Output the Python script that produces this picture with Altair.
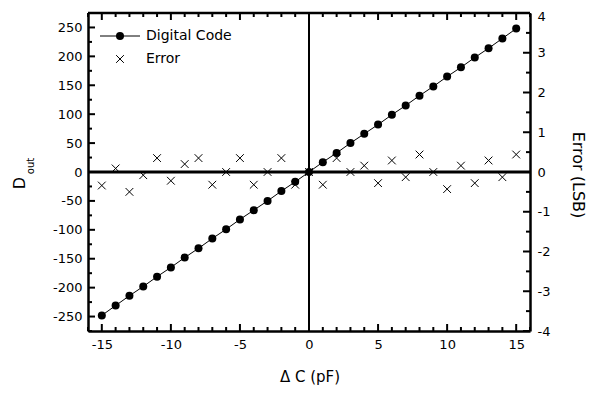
import altair as alt
import pandas as pd

# ---- data ----
delta_c = list(range(-15, 16))
digital_code = [-248, -231, -214, -198, -181, -165, -148, -132, -115, -99, -82, -66, -50, -33, -17,
                0, 17, 33, 50, 66, 82, 99, 115, 132, 148, 165, 181, 198, 214, 231, 248]
error_lsb = [-0.34, 0.09, -0.50, -0.08, 0.35, -0.22, 0.20, 0.35, -0.32, 0.0, 0.35, -0.32, 0.0, 0.35, -0.32,
             0.0, -0.32, 0.35, 0.0, 0.16, -0.28, 0.29, -0.13, 0.44, 0.0, -0.43, 0.16, -0.28, 0.29, -0.13, 0.44]

x_major = list(range(-15, 16, 5))
x_minor = [v for v in range(-16, 17) if v % 5 != 0]
yl_major = list(range(-250, 251, 50))
yl_minor = [v for v in range(-275, 276, 25) if v % 50 != 0]
yr_major = list(range(-4, 5))
yr_minor = [v + 0.5 for v in range(-4, 4)]

W, H = 442, 318
FONT = "DejaVu Sans"
X_DOM = [-16, 16]
YL_DOM = [-275, 275]
YR_DOM = [-4, 4]
MAJ, MIN = 7, 4

df = pd.DataFrame({"x": delta_c, "code": digital_code, "err": error_lsb})
dummy = pd.DataFrame({"x": [0], "y": [0]})

xs = alt.Scale(domain=X_DOM, nice=False, zero=False)
yls = alt.Scale(domain=YL_DOM, nice=False, zero=False)
yrs = alt.Scale(domain=YR_DOM, nice=False, zero=False)

base_axis = dict(labelFont=FONT, labelFontSize=13, labelColor="black", grid=False, title=None,
                 ticks=False, domain=True, domainColor="black", domainWidth=2.5,
                 labelExpr="'' + datum.value")

x_main_axis = alt.Axis(orient="bottom", values=x_major, labelPadding=7, **base_axis)
yl_main_axis = alt.Axis(orient="left", values=yl_major, labelPadding=6, **base_axis)
yr_main_axis = alt.Axis(orient="right", values=yr_major, labelPadding=7,
                        labelOffset={"condition": {"test": "datum.value == 4", "value": 3}, "value": 0},
                        **base_axis)

code_line = alt.Chart(df).mark_line(color="black", strokeWidth=1).encode(
    x=alt.X("x:Q", scale=xs, axis=x_main_axis),
    y=alt.Y("code:Q", scale=yls, axis=yl_main_axis),
)
code_pts = alt.Chart(df).mark_point(filled=True, color="black", size=64, opacity=1, shape="circle").encode(
    x=alt.X("x:Q", scale=xs, axis=None),
    y=alt.Y("code:Q", scale=yls, axis=None),
)
err_pts = alt.Chart(df).mark_point(
    shape="M-1,-1L1,1M-1,1L1,-1", filled=False, color="black", strokeWidth=1, size=60, opacity=1
).encode(
    x=alt.X("x:Q", scale=xs, axis=None),
    y=alt.Y("err:Q", scale=yrs, axis=yr_main_axis),
)

zero_v = alt.Chart(dummy).mark_rule(color="black", strokeWidth=2).encode(
    x=alt.X("x:Q", scale=xs, axis=None)
)
zero_h = alt.Chart(dummy).mark_rule(color="black", strokeWidth=3).encode(
    y=alt.Y("y:Q", scale=yls, axis=None)
)
top_frame = alt.Chart(dummy).mark_rule(color="black", strokeWidth=2.5).encode(
    x=alt.value(0), x2=alt.value(W), y=alt.value(0)
)


# inward tick marks drawn through the scales
def xticks(values, y0, y1):
    d = pd.DataFrame({"v": values})
    return alt.Chart(d).mark_rule(color="black", strokeWidth=2).encode(
        x=alt.X("v:Q", scale=xs, axis=None), y=alt.value(y0), y2=alt.value(y1))


def yticks(values, scale, x0, x1):
    d = pd.DataFrame({"v": values})
    return alt.Chart(d).mark_rule(color="black", strokeWidth=2).encode(
        y=alt.Y("v:Q", scale=scale, axis=None), x=alt.value(x0), x2=alt.value(x1))


tick_layers = [
    xticks(x_major, H, H - MAJ), xticks(x_minor, H, H - MIN),
    xticks(x_major, 0, MAJ), xticks(x_minor, 0, MIN),
    yticks(yl_major, yls, 0, MAJ), yticks(yl_minor, yls, 0, MIN),
    yticks(yr_major, yrs, W, W - MAJ), yticks(yr_minor, yrs, W, W - MIN),
]

# ---- legend and titles ----
leg_line = alt.Chart(dummy).mark_rule(color="black", strokeWidth=1).encode(
    x=alt.value(12), x2=alt.value(52), y=alt.value(23))
leg_dot = alt.Chart(dummy).mark_point(filled=True, color="black", size=64, opacity=1, shape="circle").encode(
    x=alt.value(32), y=alt.value(23))
leg_x = alt.Chart(dummy).mark_point(shape="M-1,-1L1,1M-1,1L1,-1", filled=False, color="black",
                                    strokeWidth=1, size=60, opacity=1).encode(
    x=alt.value(32), y=alt.value(46))
leg_t1 = alt.Chart(dummy).mark_text(text="Digital Code", font=FONT, fontSize=14, align="left",
                                     baseline="middle", color="black").encode(x=alt.value(58), y=alt.value(23))
leg_t2 = alt.Chart(dummy).mark_text(text="Error", font=FONT, fontSize=14, align="left",
                                     baseline="middle", color="black").encode(x=alt.value(58), y=alt.value(46))

x_title = alt.Chart(dummy).mark_text(text="Δ C (pF)", font=FONT, fontSize=15, align="center",
                                      baseline="middle", color="black").encode(x=alt.value(222), y=alt.value(364))
yl_title_d = alt.Chart(dummy).mark_text(text="D", font=FONT, fontSize=16, align="center", angle=270,
                                         baseline="middle", color="black").encode(x=alt.value(-68), y=alt.value(170))
yl_title_sub = alt.Chart(dummy).mark_text(text="out", font=FONT, fontSize=10, align="center", angle=270,
                                           baseline="middle", color="black").encode(x=alt.value(-57), y=alt.value(153))
yr_title = alt.Chart(dummy).mark_text(text="Error (LSB)", font=FONT, fontSize=16, align="center", angle=90,
                                       baseline="middle", color="black").encode(x=alt.value(490), y=alt.value(162))

chart = alt.layer(
    code_line, code_pts, err_pts, zero_v, zero_h, top_frame, *tick_layers,
    leg_line, leg_dot, leg_x, leg_t1, leg_t2, x_title, yl_title_d, yl_title_sub, yr_title,
).resolve_scale(x="independent", y="independent").properties(
    width=W, height=H,
    autosize=alt.AutoSizeParams(type="none"),
    padding={"left": 80, "top": 5, "right": 60, "bottom": 54},
).configure_view(stroke=None).configure(background="white")

chart.save("out.html", embed_options={"renderer": "svg", "actions": False})
